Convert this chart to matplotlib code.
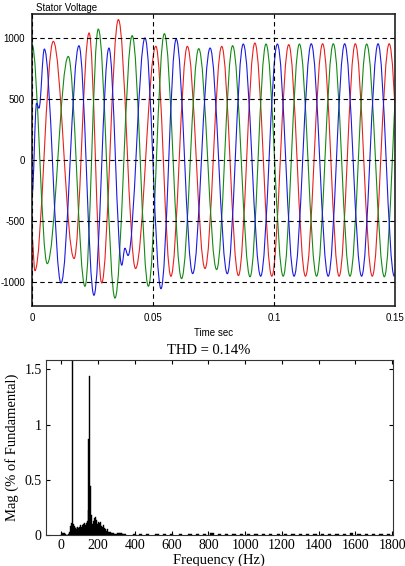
"""
Stator voltage waveform + FFT spectrum (THD) - two panel figure
"""

import numpy as np
import matplotlib.pyplot as plt
from matplotlib.path import Path
from matplotlib.patches import PathPatch

# ================================================================
# DATA
# ================================================================

# Stator voltage, peaks/troughs of each phase: time (s), value (V)
red_t = [0.0, 0.0012, 0.0088, 0.0174, 0.0236, 0.0288, 0.0357, 0.0428, 0.0512,
         0.0574, 0.0642, 0.0715, 0.0784, 0.0853, 0.0921, 0.0991, 0.1061, 0.1130,
         0.1201, 0.1269, 0.1336, 0.1406, 0.1476, 0.1545]
red_v = [-630, -910, 975, -810, 1044, -1011, 1154, -892, 934,
         -956, 934, -892, 934, -950, 961, -955, 948, -955,
         955, -955, 955, -955, 955, -955]

blue_t = [0.0, 0.0019, 0.0029, 0.0051, 0.0120, 0.0194, 0.0256, 0.0318, 0.0371,
          0.0384, 0.0397, 0.0467, 0.0533, 0.0596, 0.0664, 0.0736, 0.0807, 0.0873,
          0.0945, 0.1014, 0.1083, 0.1154, 0.1224, 0.1292, 0.1362, 0.1430, 0.1497,
          0.1565]
blue_v = [-300, 467, 426, 912, -1011, 939, -1112, 920, -865,
          -725, -785, 1003, -1058, 994, -934, 920, -935, 953,
          -955, 953, -955, 955, -955, 955, -955, 955, -955,
          955]

green_t = [0.0, 0.0063, 0.0150, 0.0219, 0.0274, 0.0343, 0.0414, 0.0481, 0.0547,
           0.0618, 0.0689, 0.0763, 0.0829, 0.0901, 0.0967, 0.1038, 0.1105, 0.1176,
           0.1245, 0.1314, 0.1383, 0.1456, 0.1522]
green_v = [950, -852, 851, -1038, 1076, -1135, 1022, -1038, 1038,
           -975, 915, -901, 939, -960, 953, -955, 953, -955,
           955, -955, 953, -960, 955]

volt_xticks = [0, 0.05, 0.1, 0.15]
volt_xlabels = ['0', '0.05', '0.1', '0.15']
volt_yticks = [-1000, -500, 0, 500, 1000]
volt_ylabels = ['-1000', '-500', '0', '500', '1000']

# FFT spectrum, low frequency part (Hz, % of fundamental)
freq_low = [0, 5, 10, 15, 20, 25, 30, 35, 40, 45, 50, 55, 60, 65, 70, 75, 80,
            85, 90, 95, 100, 105, 110, 115, 120, 125, 130, 135, 140, 145, 150,
            155, 160, 165, 170, 175, 180, 185, 190, 195, 200, 205, 210, 215, 220,
            225, 230, 235, 240, 245, 250, 255, 260, 265, 270, 275, 280, 285, 290,
            295, 300, 305, 310, 315, 320, 325, 330, 335, 340, 345, 350]
mag_low = [0.01, 0.02, 0.02, 0.015, 0.01, 0.005, 0.004, 0.004, 0.01, 0.03, 0.08,
           0.11, 100, 0.10, 0.08, 0.06, 0.07, 0.05, 0.07, 0.06, 0.07, 0.09, 0.07,
           0.09, 0.10, 0.11, 0.09, 0.11, 0.13, 0.23, 0.87, 1.44, 0.44, 0.18, 0.10,
           0.13, 0.15, 0.16, 0.14, 0.10, 0.12, 0.09, 0.11, 0.12, 0.08, 0.07, 0.09,
           0.06, 0.05, 0.04, 0.05, 0.03, 0.03, 0.02, 0.025, 0.02, 0.015, 0.015,
           0.01, 0.012, 0.01, 0.015, 0.02, 0.02, 0.02, 0.018, 0.015, 0.01, 0.008,
           0.006, 0.005]

# small blips at higher frequencies
freq_high = [400, 430, 470, 520, 560, 600, 650, 700, 740, 780, 820, 860, 900,
             940, 980, 1020, 1060, 1100, 1140, 1180, 1220, 1260, 1300, 1340,
             1380, 1420, 1460, 1500, 1540, 1580, 1620, 1660, 1700, 1740, 1780]
mag_high = [0.010, 0.008, 0.012, 0.010, 0.008, 0.012, 0.010, 0.012, 0.008,
            0.010, 0.014, 0.010, 0.008, 0.012, 0.010, 0.012, 0.008, 0.010,
            0.012, 0.008, 0.012, 0.010, 0.012, 0.008, 0.010, 0.012, 0.010,
            0.012, 0.008, 0.014, 0.010, 0.012, 0.008, 0.010, 0.008]

fft_xticks = [0, 200, 400, 600, 800, 1000, 1200, 1400, 1600, 1800]
fft_yticks = [0, 0.5, 1, 1.5]
fft_ylabels = ['0', '0.5', '1', '1.5']
thd_text = 'THD = 0.14%'


def wave_path(t, v, k=0.364):
    # cubic bezier segments between successive extrema (flat tangent at each one)
    verts = [(t[0], v[0])]
    codes = [Path.MOVETO]
    for i in range(1, len(t)):
        dt = t[i] - t[i - 1]
        verts += [(t[i - 1] + k * dt, v[i - 1]), (t[i] - k * dt, v[i]), (t[i], v[i])]
        codes += [Path.CURVE4] * 3
    return Path(verts, codes)


# ================================================================
# FIGURE
# ================================================================

fig = plt.figure(figsize=(4.06, 5.66), dpi=100)

# ---- top: stator voltage ----
ax1 = fig.add_axes([0.0788, 0.4594, 0.8941, 0.5159])
sans = 'Liberation Sans'

for t, v, c in [(red_t, red_v, '#e8201e'),
                (green_t, green_v, '#138a13'),
                (blue_t, blue_v, '#1a1ae0')]:
    ax1.add_patch(PathPatch(wave_path(t, v), facecolor='none', edgecolor=c, linewidth=0.8))

ax1.set_xlim(0, 0.15)
ax1.set_ylim(-1200, 1200)
ax1.set_xticks(volt_xticks)
ax1.set_xticklabels(volt_xlabels, fontsize=7, family=sans)
ax1.set_yticks(volt_yticks)
ax1.set_yticklabels(volt_ylabels, fontsize=7, family=sans)
ax1.tick_params(length=0, pad=5)
ax1.set_axisbelow(False)
ax1.grid(True, color='black', linestyle=(0, (4, 3)), linewidth=0.8)
for s in ax1.spines.values():
    s.set_linewidth(1.2)
    s.set_color('#222222')
ax1.set_title('Stator Voltage', loc='left', fontsize=7, family=sans, pad=2, x=0.012)
ax1.set_xlabel('Time sec', fontsize=7, family=sans, labelpad=4)

# ---- bottom: FFT spectrum ----
ax2 = fig.add_axes([0.1126, 0.0548, 0.8554, 0.3092])
serif = 'Liberation Serif'

ax2.bar(freq_low, mag_low, width=5, color='black', edgecolor='black', linewidth=0.3)
ax2.bar(freq_high, mag_high, width=18, color='black', edgecolor='black', linewidth=0.3)

ax2.set_xlim(-85, 1805)
ax2.set_ylim(0, 1.585)
ax2.set_xticks(fft_xticks)
ax2.set_xticklabels([str(v) for v in fft_xticks], fontsize=10, family=serif)
ax2.set_yticks(fft_yticks)
ax2.set_yticklabels(fft_ylabels, fontsize=10, family=serif)
ax2.tick_params(direction='in', length=3, width=0.8, top=True, right=True, pad=3)
for s in ax2.spines.values():
    s.set_linewidth(0.8)
    s.set_color('#333333')
ax2.set_title(thd_text, fontsize=10.5, family=serif, pad=4, x=0.47)
ax2.set_xlabel('Frequency (Hz)', fontsize=10.5, family=serif, labelpad=1)
ax2.set_ylabel('Mag (% of Fundamental)', fontsize=10.5, family=serif, labelpad=4)

plt.savefig('out.png', dpi=100)
